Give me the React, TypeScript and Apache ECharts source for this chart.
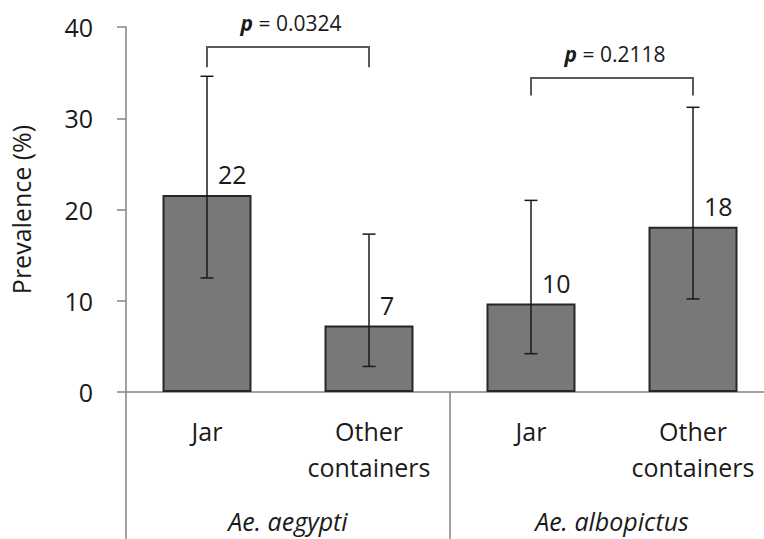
import React, { useEffect, useRef } from "react";
import * as echarts from "echarts";

const categories = ["Jar", "Other\ncontainers", "Jar", "Other\ncontainers"];
const groups = ["Ae. aegypti", "Ae. albopictus"];
const prevalence = [21.6, 7.3, 9.7, 18.1];
const valueLabels = ["22", "7", "10", "18"];
const ciLower = [12.5, 2.8, 4.2, 10.2];
const ciUpper = [34.6, 17.3, 21.0, 31.2];
const pFrom = [0, 2];
const pTo = [1, 3];
const pLeg = [35.6, 32.5];
const pTop = [37.8, 34.4];
const pValues = ["0.0324", "0.2118"];

const FONT = "'Open Sans', 'Noto Sans', sans-serif";
const AXIS_GREY = "#858585";
const DARK = "#1a1a1a";
const FS = 25;

export default function App() {
  const ref = useRef<HTMLDivElement>(null);
  useEffect(() => {
    if (!ref.current) return;
    const chart = echarts.init(ref.current, undefined, { renderer: "svg" });
    const option: any = {
      animation: false,
      backgroundColor: "#ffffff",
      textStyle: { fontFamily: FONT },
      grid: {
        left: 126,
        width: 648,
        top: 27,
        height: 365,
        containLabel: false,
        outerBoundsMode: "none",
      },
      xAxis: [
        {
          type: "category",
          data: categories,
          position: "bottom",
          axisLine: { show: true, lineStyle: { color: AXIS_GREY, width: 1.5 } },
          axisTick: { show: false },
          axisLabel: {
            interval: 0,
            fontSize: FS,
            lineHeight: 36,
            margin: 21,
            color: DARK,
            fontFamily: FONT,
          },
          splitLine: { show: false },
        },
        {
          type: "category",
          data: groups,
          position: "bottom",
          axisLine: { show: false },
          axisTick: { show: true, length: 147, lineStyle: { color: AXIS_GREY, width: 1.5 } },
          axisLabel: {
            interval: 0,
            fontSize: FS,
            fontStyle: "italic",
            lineHeight: 30,
            margin: 114,
            color: DARK,
            fontFamily: FONT,
          },
          splitLine: { show: false },
        },
      ],
      yAxis: {
        type: "value",
        min: 0,
        max: 40,
        interval: 10,
        name: "Prevalence (%)",
        nameLocation: "middle",
        nameRotate: 90,
        nameGap: 93,
        nameTextStyle: { fontSize: FS, color: DARK, fontFamily: FONT },
        axisLine: { show: true, lineStyle: { color: AXIS_GREY, width: 1.5 } },
        axisTick: { show: true, length: 9, lineStyle: { color: AXIS_GREY, width: 1.5 } },
        axisLabel: { fontSize: FS, color: DARK, margin: 33, fontFamily: FONT },
        splitLine: { show: false },
      },
      series: [
        {
          type: "bar",
          xAxisIndex: 0,
          yAxisIndex: 0,
          data: prevalence,
          barWidth: 89,
          itemStyle: { color: "#787878", borderColor: "#262626", borderWidth: 2 },
          label: {
            show: true,
            position: "top",
            distance: 8,
            align: "left",
            offset: [11, 0],
            fontSize: FS,
            color: DARK,
            fontFamily: FONT,
            formatter: (p: any) => valueLabels[p.dataIndex],
          },
          z: 2,
        },
        {
          type: "custom",
          xAxisIndex: 0,
          yAxisIndex: 0,
          encode: { x: 0, y: [1, 2] },
          data: prevalence.map((_, i) => [i, ciLower[i], ciUpper[i]]),
          z: 5,
          renderItem: (params: any, api: any) => {
            const x = api.value(0);
            const lo = api.coord([x, api.value(1)]);
            const hi = api.coord([x, api.value(2)]);
            const hw = 6.5;
            const st = { stroke: DARK, lineWidth: 1.5 };
            return {
              type: "group",
              children: [
                { type: "line", shape: { x1: hi[0], y1: hi[1], x2: lo[0], y2: lo[1] }, style: st },
                { type: "line", shape: { x1: hi[0] - hw, y1: hi[1], x2: hi[0] + hw, y2: hi[1] }, style: st },
                { type: "line", shape: { x1: lo[0] - hw, y1: lo[1], x2: lo[0] + hw, y2: lo[1] }, style: st },
              ],
            };
          },
        },
        {
          type: "custom",
          xAxisIndex: 0,
          yAxisIndex: 0,
          encode: { x: [0, 1], y: [2, 3] },
          data: pFrom.map((f, i) => [f, pTo[i], pLeg[i], pTop[i], i]),
          z: 5,
          renderItem: (params: any, api: any) => {
            const f = api.value(0);
            const t = api.value(1);
            const a = api.coord([f, api.value(2)]);
            const b = api.coord([f, api.value(3)]);
            const c = api.coord([t, api.value(3)]);
            const d = api.coord([t, api.value(2)]);
            const idx = params.dataIndex;
            return {
              type: "group",
              children: [
                {
                  type: "polyline",
                  shape: { points: [a, b, c, d] },
                  style: { stroke: "#595959", lineWidth: 2, fill: "none" },
                },
                {
                  type: "text",
                  x: (b[0] + c[0]) / 2 + 3,
                  y: b[1] - 14,
                  style: {
                    text: "{i|p}{n| = " + pValues[idx] + "}",
                    fontSize: 21,
                    fontFamily: FONT,
                    fill: DARK,
                    align: "center",
                    verticalAlign: "bottom",
                    rich: {
                      i: { fontSize: 21, fontFamily: FONT, fontStyle: "italic", fontWeight: "bold", fill: DARK },
                      n: { fontSize: 21, fontFamily: FONT, fill: DARK },
                    },
                  },
                },
              ],
            };
          },
        },
      ],
    };
    chart.setOption(option);
    return () => chart.dispose();
  }, []);
  return (
    <div
      ref={ref}
      style={{ position: "fixed", left: 0, top: 0, width: 764, height: 539, background: "#fff" }}
    />
  );
}
